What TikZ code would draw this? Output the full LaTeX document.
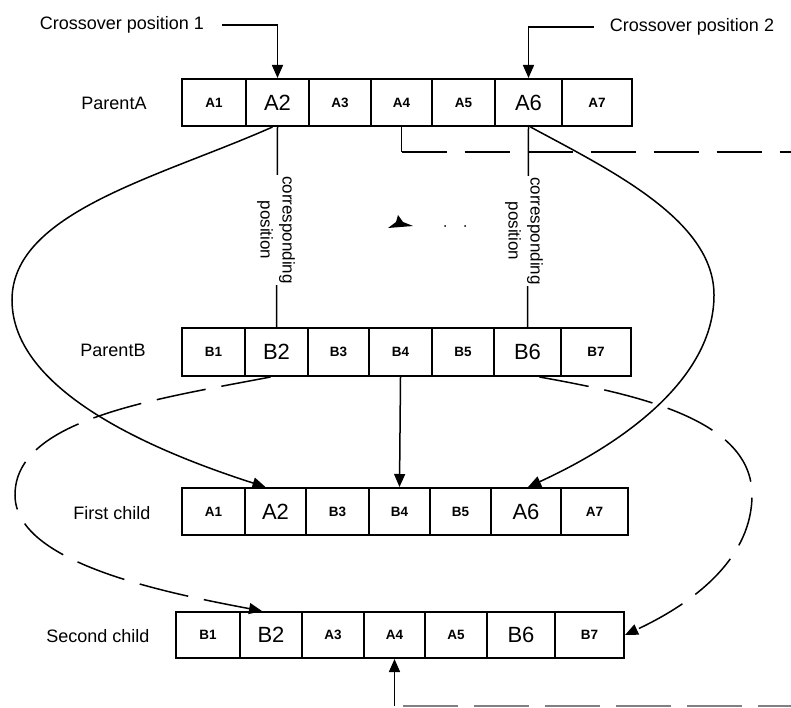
\documentclass[tikz,border=0pt]{standalone}
\usepackage{fontspec}
\setmainfont{Liberation Sans}
\usetikzlibrary{arrows.meta}
\newcommand\fsm{\fontsize{13.5}{14}\selectfont\bfseries}
\newcommand\fbg{\fontsize{22}{22}\selectfont}
\begin{document}
\begin{tikzpicture}[x=1pt,y=1pt,
  cell/.style={draw, line width=2pt, inner sep=0pt, anchor=center},
  lbl/.style={font=\fontsize{18}{18}\selectfont, inner sep=0pt},
  vlbl/.style={rotate=-90, align=center, fill=white, inner sep=1pt,
    font=\fontsize{17}{22}\selectfont},
  link/.style={line width=1.5pt},
  tip/.style={-{Triangle[length=13pt,width=11pt]}},
  conn/.style={link, tip},
  longdash/.style={dash pattern=on 50pt off 16pt},
]
\useasboundingbox (0,0) rectangle (791,-708);

% chromosome rows
\foreach \n/\l/\r/\t in {a1/182/246/{\fsm A1}, a2/246/309/{\fbg A2}, a3/309/371/{\fsm A3},
    a4/371/432/{\fsm A4}, a5/432/495/{\fsm A5}, a6/495/562/{\fbg A6}, a7/562/632/{\fsm A7}}
  \node[cell, minimum width={\r-\l}, minimum height=47pt] (\n) at ({(\l+\r)/2},-102.5) {\t};
\foreach \n/\l/\r/\t in {b1/182/245/{\fsm B1}, b2/245/308/{\fbg B2}, b3/308/369/{\fsm B3},
    b4/369/432/{\fsm B4}, b5/432/494/{\fsm B5}, b6/494/561/{\fbg B6}, b7/561/631/{\fsm B7}}
  \node[cell, minimum width={\r-\l}, minimum height=48pt] (\n) at ({(\l+\r)/2},-352) {\t};
\foreach \n/\l/\r/\t in {c1/182/245/{\fsm A1}, c2/245/306/{\fbg A2}, c3/306/369/{\fsm B3},
    c4/369/430/{\fsm B4}, c5/430/491/{\fsm B5}, c6/491/561/{\fbg A6}, c7/561/628/{\fsm A7}}
  \node[cell, minimum width={\r-\l}, minimum height=47pt] (\n) at ({(\l+\r)/2},-511.5) {\t};
\foreach \n/\l/\r/\t in {d1/176/240/{\fsm B1}, d2/240/302/{\fbg B2}, d3/302/364/{\fsm A3},
    d4/364/425/{\fsm A4}, d5/425/487/{\fsm A5}, d6/487/555/{\fbg B6}, d7/555/624/{\fsm B7}}
  \node[cell, minimum width={\r-\l}, minimum height=46pt] (\n) at ({(\l+\r)/2},-635) {\t};

% row labels
\node[lbl] (pa) at (114,-103) {ParentA};
\node[lbl] (pb) at (113,-350) {ParentB};
\node[lbl] (fc) at (112,-513) {First child};
\node[lbl] (sc) at (98,-636) {Second child};
\node[lbl] (cp1) at (122,-25) {Crossover position 1};
\node[lbl] (cp2) at (692,-27) {Crossover position 2};

% crossover markers
\draw[conn] ([xshift=18pt]cp1.east) -| (a2.north);
\draw[conn] ([xshift=-16pt]cp2.west) -| (a6.north);

% corresponding positions
\draw[link] (a2.south) -- (b2.north);
\draw[link] (a6.south) -- (b6.north);
\node[vlbl] (cl) at (276,-230) {corresponding\\position};
\node[vlbl] (cr) at (524,-231) {corresponding\\position};

% middle segment carried down unchanged
\draw[conn] (b4.south) -- (c4.north);

% first child: parent A ends
\draw[conn] ([xshift=-5pt]a2.south) .. controls (160,-177) and (12,-212) .. (12,-300)
  .. controls (12,-390) and (150,-450) .. ([xshift=-10pt]c2.north);
\draw[conn] ([xshift=2pt]a6.south) .. controls (610,-170) and (714,-220) .. (714,-295)
  .. controls (714,-380) and (620,-445) .. ([xshift=2pt]c6.north);

% second child: parent B ends
\draw[conn, longdash] ([xshift=-6pt]b2.south) .. controls (150,-400) and (15,-420) .. (15,-495)
  .. controls (15,-560) and (150,-590) .. ([xshift=-9pt]d2.north);
\draw[conn, longdash] ([xshift=12pt]b6.south) .. controls (640,-395) and (752,-420) .. (752,-495)
  .. controls (752,-555) and (700,-600) .. (d7.east);

% side lines at A4
\coordinate (tk) at (401.5,-152);
\coordinate (te) at (791,-152);
\draw[link] (a4.south) -- (tk);
\draw[link, dash pattern=on 45pt off 18pt] (tk) -- (te);
\coordinate (bk) at (394.5,-706);
\draw[conn] (bk) -- (d4.south);
\coordinate (bs) at (403,-706);
\coordinate (be) at (791,-706);
\draw[line width=1.5pt, gray, dash pattern=on 55pt off 16pt] (bs) -- (be);

% small mark in the middle
\fill (388,-228) -- (413,-226) -- (403,-222) -- (398,-215) -- (396,-222) -- cycle;
\fill (445,-226) circle (1pt);
\fill (465,-226) circle (1pt);
\end{tikzpicture}
\end{document}
